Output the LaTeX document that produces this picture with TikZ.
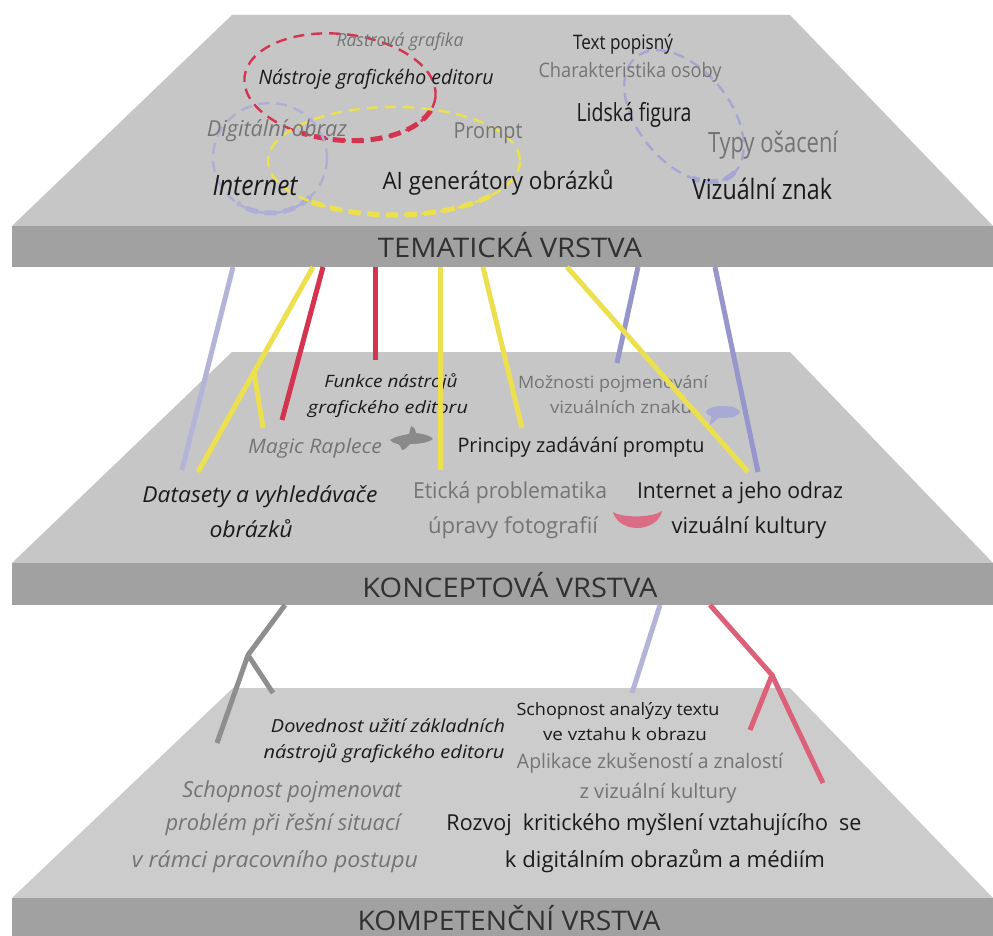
\documentclass[tikz,border=0pt]{standalone}
\usepackage{fontspec}
\setmainfont{Open Sans}
\usepackage{graphicx}
\definecolor{faceA}{HTML}{C6C6C6}
\definecolor{faceC}{HTML}{CCCCCC}
\definecolor{bandc}{HTML}{A1A1A1}
\definecolor{txtb}{HTML}{1A1A1A}
\definecolor{txtg}{HTML}{747474}
\definecolor{yel}{HTML}{ECE04E}
\definecolor{redc}{HTML}{D53450}
\definecolor{peri}{HTML}{9696CD}
\definecolor{lav}{HTML}{B4B4D8}
\definecolor{grayc}{HTML}{8E8E8E}
\definecolor{pinkc}{HTML}{DB6078}
\definecolor{blobg}{HTML}{8A8A8A}
\definecolor{blobb}{HTML}{A9A9D6}
\definecolor{blobp}{HTML}{DA6D85}
\newcommand\fitw[2]{\resizebox{#1pt}{\height}{#2}}
\newcommand\fsz[1]{\fontsize{#1}{#1}\selectfont}
\tikzset{
  lbl/.style={inner sep=0pt, anchor=base},
  bk/.style={lbl, text=txtb},
  gr/.style={lbl, text=txtg},
  title/.style={lbl, text=txtb!90, font=\fsz{27}},
  conn/.style={line width=5pt},
  ell/.style={line width=2.4pt, dash pattern=on 11pt off 7pt},
  ellthick/.style={line width=5pt, dash pattern=on 12pt off 7pt}
}
\begin{document}
\begin{tikzpicture}[x=1pt, y=-1pt]
\useasboundingbox (0,0) rectangle (993,936);
\fill[white] (0,0) rectangle (993,936);
% ---------- layers ----------
\fill[faceA] (232,15) -- (790,15) -- (993,226) -- (12,226) -- cycle;
\fill[bandc] (12,226) rectangle (993,267);
\fill[faceA] (232,352) -- (790,352) -- (993,563) -- (12,563) -- cycle;
\fill[bandc] (12,563) rectangle (993,605);
\fill[faceC] (233,688) -- (790,688) -- (993,898) -- (12,898) -- cycle;
\fill[bandc] (12,898) rectangle (993,936);

\node[title] (t1) at (510,258) {\fitw{264}{TEMATICKÁ VRSTVA}};
\node[title] (t2) at (510,597) {\fitw{295}{KONCEPTOVÁ VRSTVA}};
\node[title] (t3) at (509,930) {\fitw{303}{KOMPETENČNÍ VRSTVA}};

% ---------- ellipses (layer 1) ----------
\draw[redc, ell, shift={(340,87)}, rotate=-6] (0,0) ellipse [x radius=96, y radius=53];
\draw[redc, ellthick, shift={(340,87)}, rotate=-6] (15:96 and 53) arc[start angle=15, end angle=110, x radius=96, y radius=53];
\draw[lav!80!peri, ell, shift={(270,158)}] (0,0) ellipse [x radius=57, y radius=55];
\draw[lav!80!peri, ellthick, shift={(270,158)}] (45:57 and 55) arc[start angle=45, end angle=125, x radius=57, y radius=55];
\draw[yel, ell, shift={(394,161)}] (0,0) ellipse [x radius=126, y radius=54];
\draw[yel, ellthick, shift={(394,161)}] (40:126 and 54) arc[start angle=40, end angle=135, x radius=126, y radius=54];
\draw[peri!85, ell, shift={(684,116)}, rotate=-51] (0,0) ellipse [x radius=76, y radius=46];
\draw[peri!85, ellthick, shift={(684,116)}, rotate=-51] (-5:76 and 46) arc[start angle=-5, end angle=45, x radius=76, y radius=46];

% ---------- layer 1 texts ----------
\node[gr, font=\fsz{18}\itshape] (rastr) at (400,47) {\fitw{127}{Rastrová grafika}};
\node[bk, font=\fsz{20}\itshape] (nastroje) at (376,85) {\fitw{235}{Nástroje grafického editoru}};
\node[gr, font=\fsz{22}\itshape] (digobr) at (277,137) {\fitw{140}{Digitální obraz}};
\node[gr, font=\fsz{22}] (prompt) at (488,139) {\fitw{69}{Prompt}};
\node[bk, font=\fsz{28}\itshape] (internet) at (255,196) {\fitw{85}{Internet}};
\node[bk, font=\fsz{24}] (aigen) at (498,190) {\fitw{231}{AI generátory obrázků}};
\node[bk, font=\fsz{20}] (textpop) at (623,50) {\fitw{100}{Text popisný}};
\node[gr, font=\fsz{20}] (charakt) at (630,78) {\fitw{183}{Charakteristika osoby}};
\node[bk, font=\fsz{25}] (lidska) at (634,122) {\fitw{115}{Lidská figura}};
\node[gr, font=\fsz{28}] (typy) at (773,153) {\fitw{130}{Typy ošacení}};
\node[bk, font=\fsz{28}] (vizznak) at (762,200) {\fitw{140}{Vizuální znak}};

% ---------- layer 2 texts ----------
\node[bk, font=\fsz{17}\itshape] (funkceA) at (391,387) {\fitw{133}{Funkce nástrojů}};
\node[bk, font=\fsz{17}\itshape] (funkceB) at (388,413) {\fitw{160}{grafického editoru}};
\node[gr, font=\fsz{20}\itshape] (magic) at (315,453) {\fitw{134}{Magic Raplece}};
\node[bk, font=\fsz{20}] (principy) at (581,452) {\fitw{247}{Principy zadávání promptu}};
\node[gr, font=\fsz{17}] (moznA) at (613,388) {\fitw{190}{Možnosti pojmenování}};
\node[gr, font=\fsz{17}] (moznB) at (621,413) {\fitw{142}{vizuálních znaků}};
\node[bk, font=\fsz{22}\itshape] (dataA) at (260,502) {\fitw{235}{Datasety a vyhledávače}};
\node[bk, font=\fsz{22}\itshape] (dataB) at (251,537) {\fitw{83}{obrázků}};
\node[gr, font=\fsz{22}] (etikaA) at (510,498) {\fitw{194}{Etická problematika}};
\node[gr, font=\fsz{22}] (etikaB) at (513,533) {\fitw{170}{úpravy fotografií}};
\node[bk, font=\fsz{22}] (intA) at (740,498) {\fitw{206}{Internet a jeho odraz}};
\node[bk, font=\fsz{22}] (intB) at (749,533) {\fitw{155}{vizuální kultury}};

% blobs
\fill[blobg] (390,440) .. controls (396,436) and (404,435) .. (409,434) -- (411,426) .. controls (413,426) and (415,428) .. (416,433) .. controls (424,434) and (431,436) .. (433,439) .. controls (428,443) and (418,444) .. (410,444) .. controls (407,447) and (405,450) .. (402,450) .. controls (401,447) and (400,445) .. (398,444) .. controls (394,443) and (391,442) .. (390,440) -- cycle;
\fill[blobb] (723,412) ellipse [x radius=17, y radius=6];
\fill[blobb] (712,414) -- (709,426) -- (721,416) -- cycle;
\fill[blobp] (613,512) .. controls (622,518) and (652,518) .. (662,511) .. controls (660,522) and (648,528) .. (637,528) .. controls (625,528) and (615,521) .. (613,512) -- cycle;

% ---------- layer 3 texts ----------
\node[bk, font=\fsz{18}\itshape] (dovA) at (388,732) {\fitw{234}{Dovednost užití základních}};
\node[bk, font=\fsz{18}\itshape] (dovB) at (384,758) {\fitw{241}{nástrojů grafického editoru}};
\node[bk, font=\fsz{17}] (analA) at (618,715) {\fitw{203}{Schopnost analýzy textu}};
\node[bk, font=\fsz{17}] (analB) at (625,740) {\fitw{164}{ve vztahu k obrazu}};
\node[gr, font=\fsz{20}] (aplA) at (650,768) {\fitw{266}{Aplikace zkušeností a znalostí}};
\node[gr, font=\fsz{20}] (aplB) at (658,798) {\fitw{157}{z vizuální kultury}};
\node[gr, font=\fsz{22}\itshape] (schA) at (292,797) {\fitw{219}{Schopnost pojmenovat}};
\node[gr, font=\fsz{22}\itshape] (schB) at (283,830) {\fitw{235}{problém při řešní situací}};
\node[gr, font=\fsz{22}\itshape] (schC) at (275,867) {\fitw{286}{v rámci pracovního postupu}};
\node[bk, font=\fsz{22}] (rozA) at (654,830) {\fitw{415}{Rozvoj\ \ kritického myšlení vztahujícího\ \ se}};
\node[bk, font=\fsz{22}] (rozB) at (665,867) {\fitw{320}{k digitálním obrazům a médiím}};

% ---------- connectors layer 1 -> layer 2 ----------
\coordinate (a1s) at (233,267); \coordinate (a1e) at (182,470);
\coordinate (a2s) at (313,267); \coordinate (a2e) at (198,472);
\coordinate (a2b) at (254,372); \coordinate (a2f) at (263,428);
\coordinate (a3s) at (323,267); \coordinate (a3e) at (282,420);
\coordinate (a4s) at (375,267); \coordinate (a4e) at (375,360);
\coordinate (a5s) at (440,267); \coordinate (a5e) at (440,470);
\coordinate (a6s) at (483,267); \coordinate (a6e) at (522,428);
\coordinate (a7s) at (567,267); \coordinate (a7e) at (748,472);
\coordinate (a8s) at (638,267); \coordinate (a8e) at (617,363);
\coordinate (a9s) at (715,267); \coordinate (a9e) at (758,472);
\draw[conn, lav] (a1s) -- (a1e);
\draw[conn, yel] (a2s) -- (a2e);
\draw[conn, yel] (a2b) -- (a2f);
\draw[conn, redc] (a3s) -- (a3e);
\draw[conn, redc] (a4s) -- (a4e);
\draw[conn, yel] (a5s) -- (a5e);
\draw[conn, yel] (a6s) -- (a6e);
\draw[conn, peri] (a8s) -- (a8e);
\draw[conn, peri] (a9s) -- (a9e);
\draw[conn, yel] (a7s) -- (a7e);

% ---------- connectors layer 2 -> layer 3 ----------
\coordinate (b1s) at (285,605); \coordinate (b1m) at (248,655);
\coordinate (b1e) at (217,743); \coordinate (b1f) at (273,693);
\coordinate (b2s) at (660,605); \coordinate (b2e) at (632,693);
\coordinate (b3s) at (710,605); \coordinate (b3m) at (772,675);
\coordinate (b3e) at (750,730); \coordinate (b3f) at (823,783);
\draw[conn, grayc] (b1s) -- (b1m) -- (b1e);
\draw[conn, grayc] (b1m) -- (b1f);
\draw[conn, lav] (b2s) -- (b2e);
\draw[conn, pinkc] (b3s) -- (b3m) -- (b3e);
\draw[conn, pinkc] (b3m) -- (b3f);
\end{tikzpicture}
\end{document}
